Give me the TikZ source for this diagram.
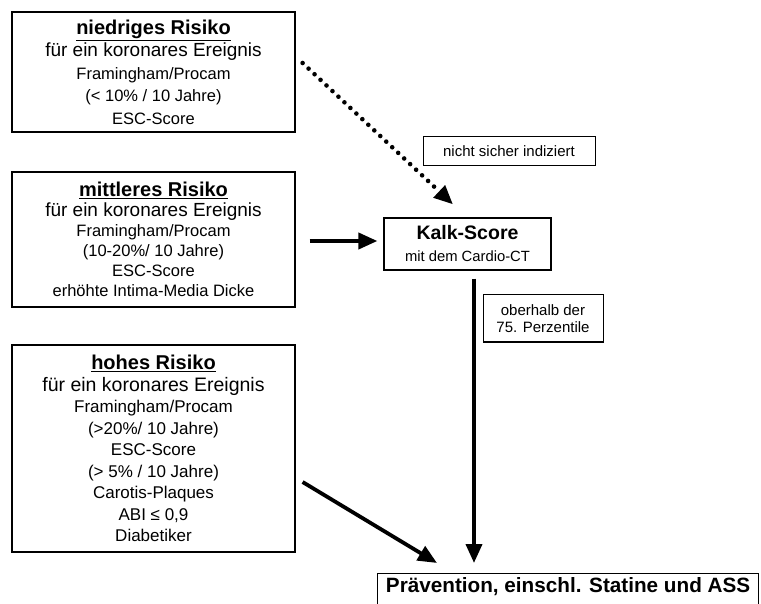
\documentclass[tikz,border=0pt]{standalone}
\usepackage{fontspec}
\setmainfont{Liberation Sans}
\usetikzlibrary{arrows.meta,positioning,calc}

\begin{document}
\begin{tikzpicture}[x=1pt,y=1pt,yscale=-1,xscale=1,
    riskbox/.style={draw, line width=1.2pt, align=center, minimum width=283pt, inner sep=0pt},
    notebox/.style={draw, line width=1pt, align=center, inner sep=0pt, font=\fontsize{15}{17}\selectfont},
    thickarrow/.style={line width=3.8pt, -{Triangle[length=19pt,width=16pt]}},
    dotarrow/.style={line width=4.6pt, line cap=round, dash pattern=on 0pt off 8.2pt, -{Triangle[length=19pt,width=16pt]}}]
    %set diagram size 761 x 604
    \useasboundingbox (0,0) rectangle (761,604);
    % Risk boxes
    \node[riskbox, minimum height=120pt, font=\fontsize{16.5}{22.5}\selectfont] (niedrig) at (153.5,72)
        {{\fontsize{20}{22}\selectfont\bfseries\underline{niedriges Risiko}}\\
         {\fontsize{19}{22}\selectfont für ein koronares Ereignis}\\
         Framingham/Procam\\ (< 10\% / 10 Jahre)\\ ESC-Score};
    \node[riskbox, minimum height=135pt, font=\fontsize{16.5}{20}\selectfont] (mittel) at (153.5,239.5)
        {{\fontsize{20}{22}\selectfont\bfseries\underline{mittleres Risiko}}\\
         {\fontsize{19}{22}\selectfont für ein koronares Ereignis}\\
         Framingham/Procam\\ (10-20\%/ 10 Jahre)\\ ESC-Score\\ erhöhte Intima-Media Dicke};
    \node[riskbox, minimum height=207pt, font=\fontsize{17}{21.5}\selectfont] (hoch) at (153.5,448.5)
        {{\fontsize{20}{22}\selectfont\bfseries\underline{hohes Risiko}}\\
         {\fontsize{19.5}{22}\selectfont für ein koronares Ereignis}\\
         Framingham/Procam\\ (>20\%/ 10 Jahre)\\ ESC-Score\\ (> 5\% / 10 Jahre)\\
         Carotis-Plaques\\ ABI ≤ 0,9\\ Diabetiker};
    % Kalk-Score
    \node[draw, line width=1.2pt, align=center, minimum width=167pt, minimum height=52pt, inner sep=0pt,
        font=\fontsize{14.8}{22}\selectfont] (kalk) at (467.5,244)
        {{\fontsize{19.5}{22}\selectfont\bfseries Kalk-Score}\\ mit dem Cardio-CT};
    % Text Node
    \node[notebox, minimum width=172pt, minimum height=29pt] (nicht) at (509,151.5) {nicht sicher indiziert};
    % Text Node
    \node[notebox, minimum width=120pt, minimum height=47pt] (oberhalb) at (543,318.5) {oberhalb der\\ 75. Perzentile};
    % Praevention
    \node[draw, line width=1.2pt, anchor=north west, minimum width=381pt, inner xsep=0pt, inner ysep=3pt,
        text height=16pt, text depth=20pt, font=\fontsize{20.7}{24}\selectfont\bfseries] (praev) at (377,573)
        {Prävention, einschl. Statine und ASS};
    % Arrows
    \draw[dotarrow] ($(niedrig.east)+(7,-9)$) -- ($(kalk.north)+(-14.5,-13)$);
    \draw[thickarrow] ($(mittel.east)+(14,1.5)$) -- ($(kalk.west)+(-6,-3)$);
    \draw[thickarrow] ($(kalk.south)+(6.5,8)$) -- ($(kalk.south |- praev.north)+(6.5,-10)$);
    \draw[thickarrow] ($(hoch.east)+(7,33.5)$) -- ($(praev.north west)+(60,-10)$);
\end{tikzpicture}
\end{document}
